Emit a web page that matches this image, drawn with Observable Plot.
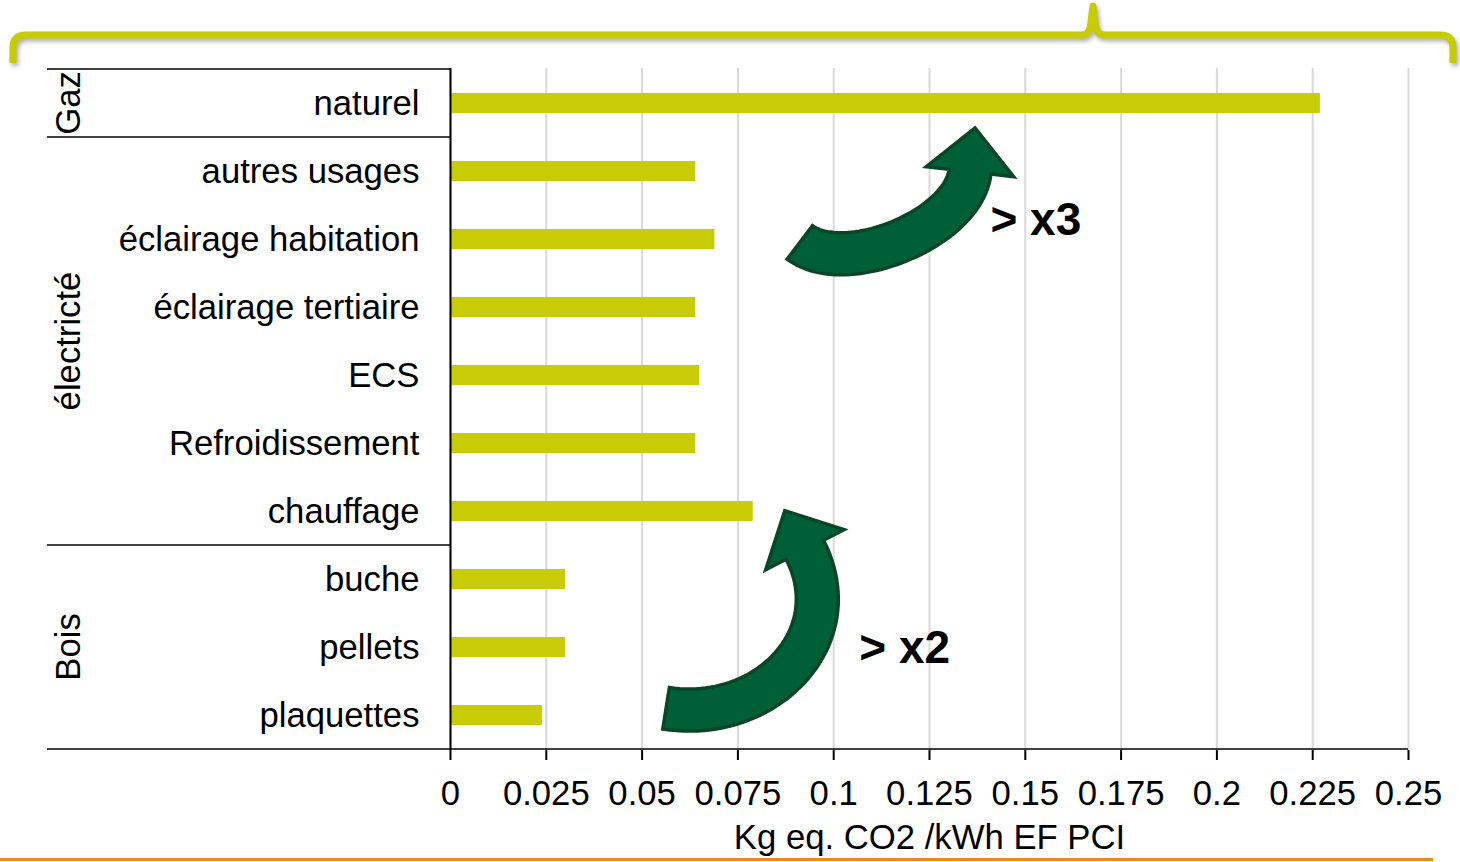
<!DOCTYPE html>
<html><head><meta charset="utf-8">
<script src="https://cdn.jsdelivr.net/npm/d3@7"></script>
<script src="https://cdn.jsdelivr.net/npm/@observablehq/plot@0.6"></script>
<style>
body{margin:0;background:#fff;}
#wrap{position:relative;width:1460px;height:862px;overflow:hidden;font-family:"Liberation Sans",Arial,sans-serif;}
#chart svg{position:absolute;left:0;top:0;}
#brace{position:absolute;left:0;top:0;filter:drop-shadow(2px 3px 2px rgba(0,0,0,0.3));}
#orange{position:absolute;left:0;top:858px;width:1433px;height:3px;background:#e38b1c;}
</style></head><body>
<div id="wrap">
<div id="chart"></div>
<svg id="brace" width="1460" height="80"><path d="M13,63 L13,48 Q13,35 26,35 L1082,35 Q1090,35 1091,22 L1093,6 L1095,22 Q1096,35 1104,35 L1440,35 Q1453,35 1453,48 L1453,63" fill="none" stroke="#c6cb04" stroke-width="7" stroke-linejoin="round"/></svg>
<div id="orange"></div>
</div>
<script>
// ---- data ----
const categories = ["naturel","autres usages","éclairage habitation","éclairage tertiaire","ECS","Refroidissement","chauffage","buche","pellets","plaquettes"];
const categoryGroup = ["Gaz","électricté","électricté","électricté","électricté","électricté","électricté","Bois","Bois","Bois"];
const values = [0.227,0.064,0.069,0.064,0.065,0.064,0.079,0.030,0.030,0.024];
const groups = ["Gaz","électricté","Bois"];
const xTicks = [0,0.025,0.05,0.075,0.1,0.125,0.15,0.175,0.2,0.225,0.25];
const xTickLabels = ["0","0.025","0.05","0.075","0.1","0.125","0.15","0.175","0.2","0.225","0.25"];
const xLabel = "Kg eq. CO2 /kWh EF PCI";
const annotationTexts = ["> x3","> x2"];
const annotationX = [0.1409,0.1067];
const annotationRow = ["éclairage habitation","pellets"];
const annotationDy = [-19,1];
// arrow centre-line bezier anchors: [value, row index]
const arrowPaths = [
  [[0.0913,2.05],[0.1031,2.55],[0.1340,1.85],[0.1357,1.01]],
  [[0.0564,8.90],[0.0822,9.13],[0.1044,7.87],[0.0926,6.57]]
];

const data = categories.map((c,i)=>({cat:c, value:values[i], group:categoryGroup[i]}));

const FONT = '"Liberation Sans", Arial, sans-serif';
const FS = 34.7;
const BAR = "#c8cc06";

function rowGeom(scales){
  const y = scales.y;
  const bw = typeof y.bandwidth === "function" ? y.bandwidth() : 0;
  const step = y(categories[1]) - y(categories[0]);
  const c0 = y(categories[0]) + bw/2;
  return {bw, step, c0, center: c => y(c) + bw/2, row: r => c0 + r*step};
}

function groupsMark(index, scales, vals, dim){
  const g = d3.create("svg:g");
  const {step, center} = rowGeom(scales);
  const xStart = 47;
  const xEnd = dim.marginLeft;
  let lastBottom = 0;
  groups.forEach(gr => {
    const cats = data.filter(d=>d.group===gr).map(d=>d.cat);
    const top = center(cats[0]) - step/2;
    const bottom = center(cats[cats.length-1]) + step/2;
    lastBottom = Math.max(lastBottom, bottom);
    g.append("line").attr("x1",xStart).attr("x2",xEnd).attr("y1",top).attr("y2",top)
      .attr("stroke","#000").attr("stroke-width",1.6);
    g.append("text").attr("transform",`translate(68,${(top+bottom)/2}) rotate(-90)`)
      .attr("text-anchor","middle").attr("dy","0.35em")
      .attr("font-size",FS).attr("font-family",FONT).attr("fill","#000").text(gr);
  });
  g.append("line").attr("x1",xStart).attr("x2",scales.x(0.25)).attr("y1",lastBottom).attr("y2",lastBottom)
    .attr("stroke","#000").attr("stroke-width",1.6);
  return g.node();
}

function arrowsMark(index, scales, vals, dim){
  const g = d3.create("svg:g");
  const {row} = rowGeom(scales);
  const half = 21, headHalf = 44, headLen = 44;
  for (const pts of arrowPaths){
    const P = pts.map(([v,r]) => [scales.x(v), row(r)]);
    const bez = t => { const u=1-t; return [0,1].map(k => u*u*u*P[0][k] + 3*u*u*t*P[1][k] + 3*u*t*t*P[2][k] + t*t*t*P[3][k]); };
    const der = t => { const u=1-t; return [0,1].map(k => 3*u*u*(P[1][k]-P[0][k]) + 6*u*t*(P[2][k]-P[1][k]) + 3*t*t*(P[3][k]-P[2][k])); };
    const left=[], right=[];
    const N=48;
    for(let i=0;i<=N;i++){
      const t=i/N, p=bez(t), d=der(t), L=Math.hypot(d[0],d[1]);
      const n=[-d[1]/L, d[0]/L];
      left.push([p[0]+n[0]*half, p[1]+n[1]*half]);
      right.push([p[0]-n[0]*half, p[1]-n[1]*half]);
    }
    const p=bez(1), d=der(1), L=Math.hypot(d[0],d[1]);
    const u=[d[0]/L,d[1]/L], n=[-u[1],u[0]];
    const tip=[p[0]+u[0]*headLen, p[1]+u[1]*headLen];
    const hl=[p[0]+n[0]*headHalf, p[1]+n[1]*headHalf];
    const hr=[p[0]-n[0]*headHalf, p[1]-n[1]*headHalf];
    const poly=[...left, hl, tip, hr, ...right.reverse()];
    g.append("path").attr("d","M"+poly.map(q=>q[0].toFixed(1)+","+q[1].toFixed(1)).join("L")+"Z")
      .attr("fill","#005f36").attr("stroke","#0a4527").attr("stroke-width",3.5).attr("stroke-linejoin","miter");
  }
  return g.node();
}

const annotationMarks = annotationTexts.map((t,i) =>
  Plot.text([{text:t, x:annotationX[i], y:annotationRow[i]}], {x: "x", y: "y", text: "text", dy: annotationDy[i], textAnchor: "start", fontSize: 46, fontWeight: "bold", fill: "#000"})
);

const plot = Plot.plot({
  width: 1460,
  height: 862,
  marginTop: 68,
  marginRight: 52,
  marginBottom: 112,
  marginLeft: 450,
  style: {fontFamily: FONT, fontSize: FS + "px", color: "#000", background: "transparent", overflow: "visible"},
  x: {domain: [0, 0.25]},
  y: {domain: categories, paddingInner: 0.7, paddingOuter: 0.35},
  marks: [
    Plot.gridX(xTicks, {stroke: "#d9d9d9", strokeOpacity: 1, strokeWidth: 2}),
    Plot.barX(data, {x: "value", y: "cat", fill: BAR}),
    Plot.ruleX([0], {stroke: "#000", strokeWidth: 2}),
    Plot.axisX(xTicks, {tickSize: 10, tickPadding: 20, tickFormat: d => xTickLabels[xTicks.indexOf(d)], fontSize: FS, stroke: "#000", strokeWidth: 2, label: null}),
    Plot.axisY({tickSize: 0, tickPadding: 31, fontSize: FS, label: null}),
    groupsMark,
    Plot.text([xLabel], {frameAnchor: "bottom", dy: 98, fontSize: FS, fill: "#000"}),
    arrowsMark,
    ...annotationMarks
  ]
});
document.getElementById("chart").appendChild(plot);
</script>
</body></html>
